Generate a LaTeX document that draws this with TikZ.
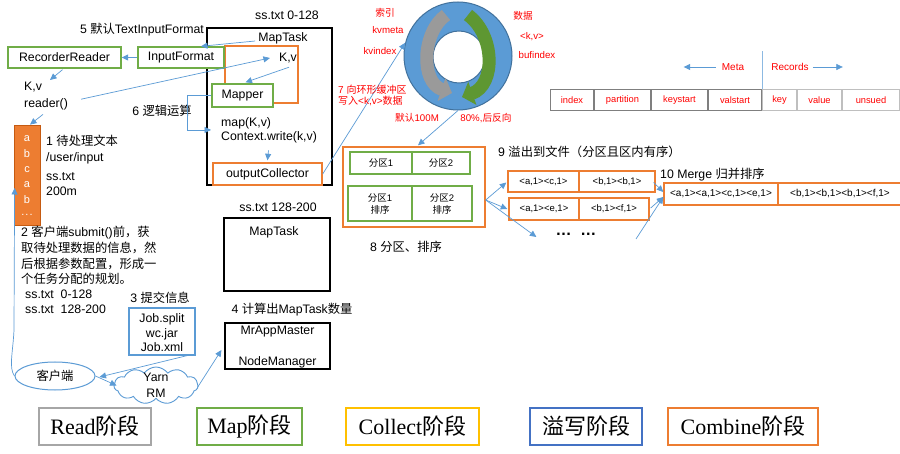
\documentclass[tikz,border=0pt]{standalone}
\usepackage{fontspec}
\setmainfont{Liberation Sans}
\newfontfamily\cjkfont{Noto Sans CJK SC}
\newfontfamily\serfont{Liberation Serif}
\usetikzlibrary{arrows.meta,calc,shapes.geometric,shapes.symbols}
\newcommand\zh[1]{{\cjkfont #1}}
\definecolor{cgreen}{HTML}{70AD47}
\definecolor{cgreenD}{HTML}{5E9732}
\definecolor{corange}{HTML}{ED7D31}
\definecolor{corangeD}{HTML}{C55A11}
\definecolor{cblue}{HTML}{5B9BD5}
\definecolor{cdblue}{HTML}{41719C}
\definecolor{cred}{HTML}{FF0000}
\definecolor{cgold}{HTML}{FFC000}
\definecolor{cblueL}{HTML}{4472C4}
\definecolor{cgray}{HTML}{A6A6A6}
\definecolor{cgrayA}{HTML}{9A9A9A}
\definecolor{cellK}{HTML}{7F7F7F}
\definecolor{cellL}{HTML}{BFBFBF}
\begin{document}
\begin{tikzpicture}[x=1pt,y=-1pt,
  every node/.style={font=\fontsize{12.3}{15}\selectfont, inner sep=0pt},
  gbox/.style={draw=cgreen, line width=1.4pt, fill=white},
  obox/.style={draw=corange, line width=1.4pt},
  kbox/.style={draw=black, line width=1.1pt},
  bbox/.style={draw=cblue, line width=1.3pt},
  arr/.style={draw=cblue, line width=0.7pt, -{Triangle[length=6.5pt,width=6pt]}},
  redtxt/.style={text=cred, font=\fontsize{9.7}{11}\selectfont},
  smalltxt/.style={font=\fontsize{9.5}{12}\selectfont},
  cellbox/.style={draw=#1, line width=1pt, minimum height=21, anchor=west, text=cred, font=\fontsize{9.3}{11}\selectfont},
  legbox/.style={draw=#1, line width=1.5pt, minimum height=37, fill=white, font=\fontsize{22}{24}\serfont},
]
\useasboundingbox (0,0) rectangle (900,454);
\fill[white] (0,0) rectangle (900,454);

% ---------- Map task 1 ----------
\node[kbox, minimum width=125, minimum height=157] (mt) at (269.5,106.5) {};
\node (l0128) at (287,15) {ss.txt 0-128};
\node (mtt) at (283,38) {MapTask};
\node[obox, minimum width=73, minimum height=57] (kvbox) at (261.5,74.5) {};
\node (kvt) at (288,58) {K,v};
\node[gbox, minimum width=61, minimum height=23] (mapper) at (242.5,95.5) {Mapper};
\node[align=left, anchor=north west, font=\fontsize{12.3}{14}\selectfont] (maptext) at (221,117) {map(K,v)\\Context.write(k,v)};
\node[obox, fill=white, minimum width=109, minimum height=22] (oc) at (267.5,174) {outputCollector};

% ---------- read side ----------
\node (t5) at (142,30) {5 \zh{默认}TextInputFormat};
\node[gbox, minimum width=113, minimum height=21] (rr) at (64.5,57.5) {RecorderReader};
\node[gbox, minimum width=86, minimum height=21] (inf) at (181,57.5) {InputFormat};
\node[align=left, anchor=north west, font=\fontsize{12.3}{17}\selectfont] (kvr) at (24,82) {K,v\\reader()};
\node (t6) at (162,111) {6 \zh{逻辑运算}};

\draw[arr] (inf.west) -- (rr.east);
\draw[arr] ($(mtt.west)+(-3,3)$) -- ($(inf.north)+(20,0)$);
\draw[arr] ($(rr.south)+(-2,1)$) -- ($(kvr.north west)+(26,-2)$);
\draw[arr] ($(kvr.east)+(13,3)$) -- ($(kvt.west)+(-9,0)$);
\draw[arr] ($(kvt.south)+(1,4)$) -- ($(mapper.north)+(3,-1)$);
\draw[arr] (mapper.west) -- ++(-24,0) |- ($(maptext.west)+(-10,0)$);
\draw[arr] ($(oc.north)+(1,-12)$) -- ($(oc.north)+(0,-2)$);

% ---------- input column ----------
\node[fill=corange, draw=corangeD, line width=0.8pt, minimum width=26, minimum height=100] (col) at (27,175) {};
\foreach \l/\yy in {a/139,b/154,c/170,a/185,b/200}
  \node[text=white, font=\fontsize{11}{12}\selectfont] at (27,\yy) {\l};
\node[text=white, font=\fontsize{11}{12}\selectfont] (coldots) at (27,215) {.\kern1pt.\kern1pt.};
\node[align=left, anchor=north west, font=\fontsize{12.3}{16}\selectfont] (t1) at (46,135) {1 \zh{待处理文本}\\/user/input};
\node[align=left, anchor=north west, font=\fontsize{12.3}{15.5}\selectfont] (t1b) at (46,172) {ss.txt\\200m};
\draw[arr] ($(kvr.south west)+(19,4)$) -- ($(col.north)+(3,0)$);

\node[align=left, anchor=north west, font=\fontsize{12.3}{15.7}\selectfont] (t2) at (21,226)
  {2 \zh{客户端}submit()\zh{前，获}\\\zh{取待处理数据的信息，然}\\\zh{后根据参数配置，形成一}\\\zh{个任务分配的规划。}};
\node[align=left, anchor=north west, font=\fontsize{12.3}{15}\selectfont] (t2b) at (25,290) {ss.txt\ \ 0-128\\ss.txt\ \ 128-200};

% ---------- submit ----------
\node (t3) at (160,298) {3 \zh{提交信息}};
\node[bbox, minimum width=66, minimum height=47] (job) at (162,331.5) {};
\node[align=center, font=\fontsize{12.3}{14.5}\selectfont] (jobt) at (162,333) {Job.split\\wc.jar\\Job.xml};
\node[ellipse, draw=cblue, line width=1pt, minimum width=80, minimum height=28] (client) at (55,376) {\zh{客户端}};
\node[cloud, draw=cblue, line width=0.9pt, cloud puffs=11, cloud puff arc=110, aspect=2.3, minimum width=84, minimum height=37] (cloud) at (156,385.5) {};
\node[align=center, font=\fontsize{12.3}{16}\selectfont] (cloudt) at (156,385.5) {Yarn\\RM};
\node (t4) at (292,310) {4 \zh{计算出}MapTask\zh{数量}};
\node[kbox, minimum width=105, minimum height=46] (mra) at (277.5,346) {};
\node (mrat) at (277.5,332) {MrAppMaster};
\node (nmt) at (277.5,362) {NodeManager};
\node (l128) at (278,207) {ss.txt 128-200};
\node[kbox, minimum width=106, minimum height=73] (mt2) at (277,254.5) {};
\node (mt2t) at (274,232) {MapTask};

\draw[arr] ($(job.south)+(25,0)$) -- ($(client.east)+(4,1)$);
\draw[arr] (client.east) -- ($(cloud.west)+(3,0)$);
\draw[arr] ($(cloud.east)+(-1,2)$) -- ($(mra.west)+(-3,4)$);
\draw[arr] (client.west) .. controls ($(client.west)+(-6,-8)$) and (13,352) .. (14,330) -- ($(col.west)+(1,13)$);

% ---------- ring buffer ----------
\node[circle, fill=cblue, draw=cdblue, line width=1pt, minimum size=108] (ring) at (458,56) {};
\node[circle, fill=white, draw=cdblue, line width=1pt, minimum size=52] (ringin) at (459,57) {};
\draw[line width=13pt, draw=cgrayA, -{Triangle[length=11pt,width=24pt]}] (446,15) .. controls (422,32) and (420,82) .. (452,93);
\draw[line width=13pt, draw=cgreenD, -{Triangle[length=11pt,width=24pt]}] (468,15) .. controls (495,35) and (496,85) .. (462,97);
\draw[arr] (oc.east) -- (ring.166);

\node[redtxt] (lsy) at (385,13) {\zh{索引}};
\node[redtxt] (lkvm) at (388,30) {kvmeta};
\node[redtxt] (lkvi) at (380,51) {kvindex};
\node[redtxt] (lsj) at (523,16) {\zh{数据}};
\node[redtxt] (lkv) at (532,37) {<k,v>};
\node[redtxt] (lbuf) at (537,55) {bufindex};
\node[redtxt, align=left, anchor=west, font=\fontsize{10}{11.5}\selectfont] (t7) at (338,95.5) {7 \zh{向环形缓冲区}\\\zh{写入}<k,v>\zh{数据}};
\node[redtxt] (l100) at (417,118) {\zh{默认}100M};
\node[redtxt] (l80) at (486,118) {80\%,\zh{后反向}};

% ---------- meta / records ----------
\node[cellbox=cellK, minimum width=43] (c1) at (550,100.5) {index};
\node[cellbox=cellK, minimum width=56] (c2) at (c1.east) {partition};
\node[cellbox=cellK, minimum width=56] (c3) at (c2.east) {keystart};
\node[cellbox=cellK, minimum width=53] (c4) at (c3.east) {valstart};
\node[cellbox=cellL, minimum width=34] (c5) at (c4.east) {key};
\node[cellbox=cellL, minimum width=44] (c6) at (c5.east) {value};
\node[cellbox=cellL, minimum width=57] (c7) at (c6.east) {unsued};
\draw[cblue!70, line width=0.8pt] (c5.north west) -- ++(0,-38);
\node[text=cred, font=\fontsize{10}{12}\selectfont] (meta) at (733,67) {Meta};
\node[text=cred, font=\fontsize{10}{12}\selectfont] (rec) at (790,67) {Records};
\draw[arr] ($(meta.west)+(-6,0)$) -- ++(-32,0);
\draw[arr] ($(rec.east)+(4,0)$) -- ++(30,0);

% ---------- partition / sort ----------
\node[obox, minimum width=142, minimum height=80] (part) at (414,187) {};
\node[gbox, smalltxt, minimum width=62, minimum height=22] (p1) at (381,163) {\zh{分区}1};
\node[gbox, smalltxt, minimum width=58, minimum height=22] (p2) at (441,163) {\zh{分区}2};
\node[gbox, smalltxt, align=center, minimum width=64, minimum height=35] (p3) at (380,203.5) {\zh{分区}1\\\zh{排序}};
\node[gbox, smalltxt, align=center, minimum width=60, minimum height=35] (p4) at (442,203.5) {\zh{分区}2\\\zh{排序}};
\node (t8) at (406,247) {8 \zh{分区、排序}};
\draw[arr] (ring.south) -- ($(part.north)+(4,-1)$);

% ---------- spill ----------
\node[anchor=west] (t9) at (498,152) {9 \zh{溢出到文件（分区且区内有序）}};
\node[obox, smalltxt, minimum width=71, minimum height=21] (s11) at (543.5,181.5) {<a,1><c,1>};
\node[obox, smalltxt, minimum width=76, minimum height=21] (s12) at (617,181.5) {<b,1><b,1>};
\node[obox, smalltxt, minimum width=70, minimum height=22] (s21) at (544,209) {<a,1><e,1>};
\node[obox, smalltxt, minimum width=70, minimum height=22] (s22) at (614,209) {<b,1><f,1>};
\node[font=\fontsize{16}{16}\selectfont] (dots) at (576,234) {\textbf{…\ \ …}};
\coordinate (po) at ($(part.east)+(0,13)$);
\draw[arr] (po) -- ($(s11.west)+(-1,1)$);
\draw[arr] (po) -- ($(s21.west)+(-1,0)$);
\draw[arr] (po) -- ($(dots.west)+(-19,3)$);

% ---------- merge ----------
\node[anchor=west] (t10) at (660,175) {10 Merge \zh{归并排序}};
\node[obox, font=\fontsize{10}{12}\selectfont, minimum width=114, minimum height=22] (m1) at (721,194) {<a,1><a,1><c,1><e,1>};
\node[obox, font=\fontsize{10}{12}\selectfont, minimum width=124, minimum height=22] (m2) at (840,194) {<b,1><b,1><b,1><f,1>};
\coordinate (d3) at (636,239);
\draw[arr] ($(s12.east)+(-2,1)$) -- ($(m1.west)+(0,-2)$);
\draw[arr] ($(s22.east)+(1,-1)$) -- ($(m1.west)+(0,3)$);
\draw[arr] (d3) -- ($(m1.west)+(0,3)$);

% ---------- legend ----------
\node[legbox=cgray, minimum width=112] (lgr) at (95,426.5) {Read\zh{阶段}};
\node[legbox=cgreen, minimum width=105] (lgm) at (249.5,426.5) {Map\zh{阶段}};
\node[legbox=cgold, minimum width=133] (lgc) at (412.5,426.5) {Collect\zh{阶段}};
\node[legbox=cblueL, minimum width=112] (lgs) at (586,426.5) {\zh{溢写阶段}};
\node[legbox=corange, minimum width=150] (lgb) at (743,426.5) {Combine\zh{阶段}};
\end{tikzpicture}
\end{document}
